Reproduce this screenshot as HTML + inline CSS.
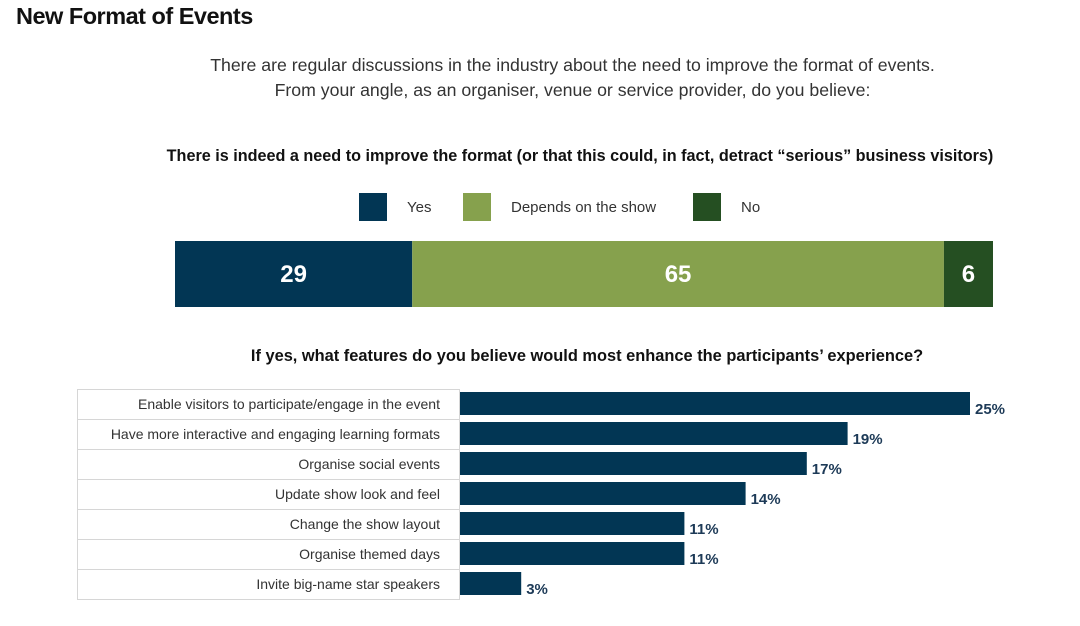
<!DOCTYPE html>
<html><head><meta charset="utf-8"><style>
body{margin:0;width:1080px;height:626px;background:#fff;font-family:"Liberation Sans",sans-serif;position:relative;overflow:hidden;color:#222}
.abs{position:absolute}
</style></head><body>
<div class="abs" style="left:16px;top:3px;font-size:23.5px;font-weight:bold;letter-spacing:-0.5px;color:#111">New Format of Events</div>
<div class="abs" style="left:100px;width:945px;top:53px;text-align:center;font-size:17.7px;line-height:25px;color:#333">There are regular discussions in the industry about the need to improve the format of events.<br>From your angle, as an organiser, venue or service provider, do you believe:</div>
<div class="abs" style="left:100px;width:960px;top:147px;text-align:center;font-size:16.2px;font-weight:bold;color:#111">There is indeed a need to improve the format (or that this could, in fact, detract “serious” business visitors)</div>
<svg id="chart" class="abs" style="left:0;top:0" width="1080" height="626"></svg>
<script>
const stackCats=["Yes","Depends on the show","No"];
const stackVals=[29,65,6];
const stackColors=["#023654","#86a14d","#254f22"];
const featCats=["Enable visitors to participate/engage in the event","Have more interactive and engaging learning formats","Organise social events","Update show look and feel","Change the show layout","Organise themed days","Invite big-name star speakers"];
const featVals=[25,19,17,14,11,11,3];
const NS="http://www.w3.org/2000/svg";
const svg=document.getElementById('chart');
function mk(t,a,txt){const e=document.createElementNS(NS,t);for(const k in a)e.setAttribute(k,a[k]);if(txt!==undefined)e.textContent=txt;svg.appendChild(e);return e;}
const legX=[359,463,693];
stackCats.forEach((c,i)=>{
 const r=mk('rect',{x:legX[i],y:193,width:28,height:28,fill:stackColors[i]});
 
 
 const t=mk('text',{x:legX[i]+48,y:212,'font-size':15,fill:'#333'},c);
 
 
});
const total=stackVals.reduce((a,b)=>a+b,0);
const sx0=175,sW=818;
const sx=v=>sx0+v/total*sW;
let acc=0;
stackVals.forEach((v,i)=>{
 const x=sx(acc),w=sx(acc+v)-x;
 const r=mk('rect',{x:x,y:241,width:w,height:66,fill:stackColors[i]});
 
 
 const t=mk('text',{x:x+w/2,y:282,'text-anchor':'middle','font-size':24,'font-weight':'bold',fill:'#fff'},String(v));
 
 
 acc+=v;
});
const t2=mk('text',{x:587,y:361,'text-anchor':'middle','font-size':16.4,'font-weight':'bold',fill:'#111'},"If yes, what features do you believe would most enhance the participants’ experience?");


const bx0=460,pxPer=20.4,rowH=30,rowTop=389;
const bx=v=>bx0+v*pxPer;
featCats.forEach((c,i)=>{
 const y=rowTop+i*rowH;
 const cell=mk('rect',{x:77.5,y:y+0.5,width:382,height:rowH,fill:'#fff',stroke:'#d6d6d6'});
 
 
 const l=mk('text',{x:440,y:y+20,'text-anchor':'end','font-size':14,fill:'#333'},c);
 
 
 const b=mk('rect',{x:bx0,y:y+3,width:bx(featVals[i])-bx0,height:23,fill:'#023654'});
 
 
 const v=mk('text',{x:bx(featVals[i])+5,y:y+25,'font-size':15,'font-weight':'bold',fill:'#1d3a57'},featVals[i]+'%');
 
 
});
</script>
</body></html>
